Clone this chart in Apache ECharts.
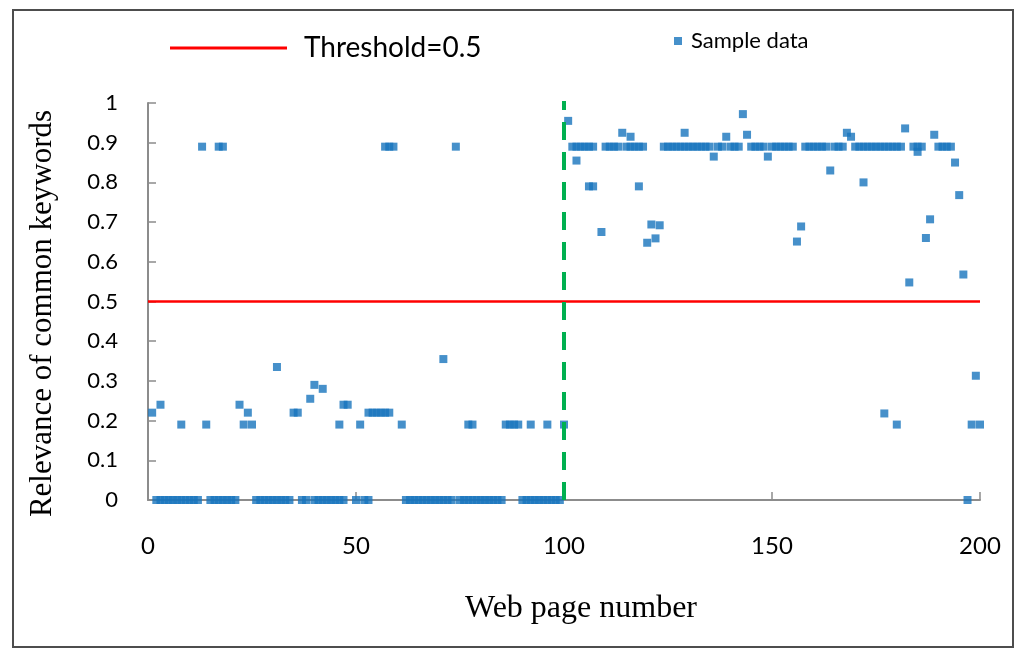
<!DOCTYPE html>
<html>
<head>
<meta charset="utf-8">
<script src="https://cdn.jsdelivr.net/npm/echarts@6/dist/echarts.min.js"></script>
<style>html,body{margin:0;padding:0;background:#fff}#c{width:1024px;height:658px}</style>
</head>
<body>
<div id="c"></div>
<script>
// Axis tick labels
const xTicks = [0, 50, 100, 150, 200];
const yTicks = ['0','0.1','0.2','0.3','0.4','0.5','0.6','0.7','0.8','0.9','1'];

// Web pages whose relevance is 0
const zeroPages = [2,3,4,5,6,7,8,9,10,11,12,15,16,17,18,19,20,21,26,27,28,29,30,31,32,33,34,37,38,40,41,42,43,44,45,46,47,50,52,53,62,63,64,65,66,67,68,69,70,71,72,73,75,76,77,78,79,80,81,82,83,84,85,90,91,92,93,94,95,96,97,98,99,197];
// Web pages whose relevance is about 0.89
const highPages = [13,17,18,57,58,59,74,102,103,104,105,106,107,110,111,112,113,115,116,117,118,119,124,125,126,127,128,129,130,131,132,133,134,135,137,138,140,141,142,145,146,147,148,150,151,152,153,154,155,158,159,160,161,162,163,165,166,167,170,171,172,173,174,175,176,177,178,179,180,181,184,185,186,190,191,192,193];
const highValue = 0.89;
// Remaining samples: page number and relevance
const otherPages = [1,3,8,14,22,23,24,25,31,35,36,39,40,42,46,47,48,51,53,54,55,56,57,58,61,71,77,78,86,87,88,89,92,96,100,
  101,103,106,107,109,114,116,118,120,121,122,123,129,136,139,143,144,149,156,157,164,168,169,172,177,180,182,183,185,187,188,189,194,195,196,198,199,200];
const otherValues = [0.22,0.24,0.19,0.19,0.24,0.19,0.22,0.19,0.335,0.22,0.22,0.255,0.29,0.28,0.19,0.24,0.24,0.19,0.22,0.22,0.22,0.22,0.22,0.22,0.19,0.355,0.19,0.19,0.19,0.19,0.19,0.19,0.19,0.19,0.19,
  0.955,0.855,0.79,0.79,0.675,0.925,0.915,0.79,0.648,0.694,0.659,0.692,0.925,0.865,0.915,0.972,0.92,0.865,0.651,0.689,0.83,0.925,0.915,0.80,0.218,0.19,0.936,0.548,0.877,0.66,0.707,0.92,0.85,0.768,0.568,0.19,0.313,0.19];
// Threshold line
const thresholdX = [0, 200];
const thresholdY = [0.5, 0.5];
// Divider between the two page groups
const dividerX = [100, 100];
const dividerY = [0, 1.01];

const sample = [];
zeroPages.forEach(p => sample.push([p, 0]));
highPages.forEach(p => sample.push([p, highValue]));
otherPages.forEach((p, i) => sample.push([p, otherValues[i]]));

const chart = echarts.init(document.getElementById('c'), null, {renderer: 'canvas'});
const axisGray = '#8c8c8c';
chart.setOption({
  animation: false,
  backgroundColor: '#fff',
  graphic: [{
    type: 'rect', shape: {x: 13, y: 10, width: 1000, height: 637},
    style: {fill: 'none', stroke: '#4d4d4d', lineWidth: 2}, z: -1
  }],
  legend: [{
    data: [{name: 'Threshold=0.5', icon: 'rect'}],
    left: 165, top: 29, itemWidth: 117, itemHeight: 3,
    textStyle: {fontFamily: 'Lato', fontSize: 28, color: '#000', padding: [0,0,0,12]}
  }, {
    data: [{name: 'Sample data', icon: 'rect'}],
    left: 669, top: 25, itemWidth: 8, itemHeight: 8,
    textStyle: {fontFamily: 'Lato', fontSize: 22, color: '#000', padding: [0,0,0,4]}
  }],
  grid: {left: 148, right: 44, top: 103, bottom: 158},
  xAxis: {
    type: 'value', min: 0, max: 200, interval: 50,
    name: 'Web page number', nameLocation: 'middle', nameGap: 93,
    nameTextStyle: {fontFamily: 'Liberation Serif', fontSize: 32, color: '#000', padding: [0, 0, 0, 34]},
    axisLine: {show: true, lineStyle: {color: axisGray, width: 2}},
    axisTick: {show: true, inside: true, length: 8, lineStyle: {color: axisGray, width: 1.5}},
    axisLabel: {fontFamily: 'Lato', fontSize: 24, color: '#000', margin: 34,
      formatter: v => xTicks.includes(v) ? String(v) : ''},
    splitLine: {show: false}
  },
  yAxis: {
    type: 'value', min: 0, max: 1, interval: 0.1,
    name: 'Relevance of common keywords', nameLocation: 'middle', nameGap: 90, nameRotate: 90,
    nameTextStyle: {fontFamily: 'Liberation Serif', fontSize: 31, color: '#000', padding: [0, 24, 0, 0]},
    axisLine: {show: true, lineStyle: {color: axisGray, width: 2}},
    axisTick: {show: true, inside: true, length: 8, lineStyle: {color: axisGray, width: 1.5}},
    axisLabel: {fontFamily: 'Lato', fontSize: 22, color: '#000', margin: 30,
      formatter: v => yTicks[Math.round(v * 10)]},
    splitLine: {show: false}
  },
  series: [{
    name: 'Sample data', type: 'scatter', symbol: 'rect', symbolSize: 8,
    itemStyle: {color: '#1874bd'}, data: sample, z: 3
  }, {
    name: 'Threshold=0.5', type: 'line', symbol: 'none',
    lineStyle: {color: '#ff0000', width: 2.5}, itemStyle: {color: '#ff0000'},
    data: thresholdX.map((x, i) => [x, thresholdY[i]]), z: 2
  }, {
    name: 'divider', type: 'line', symbol: 'none', silent: true,
    lineStyle: {color: '#00b050', width: 4, type: [18, 12]},
    data: dividerX.map((x, i) => [x, dividerY[i]]), z: 4
  }]
});
</script>
</body>
</html>
